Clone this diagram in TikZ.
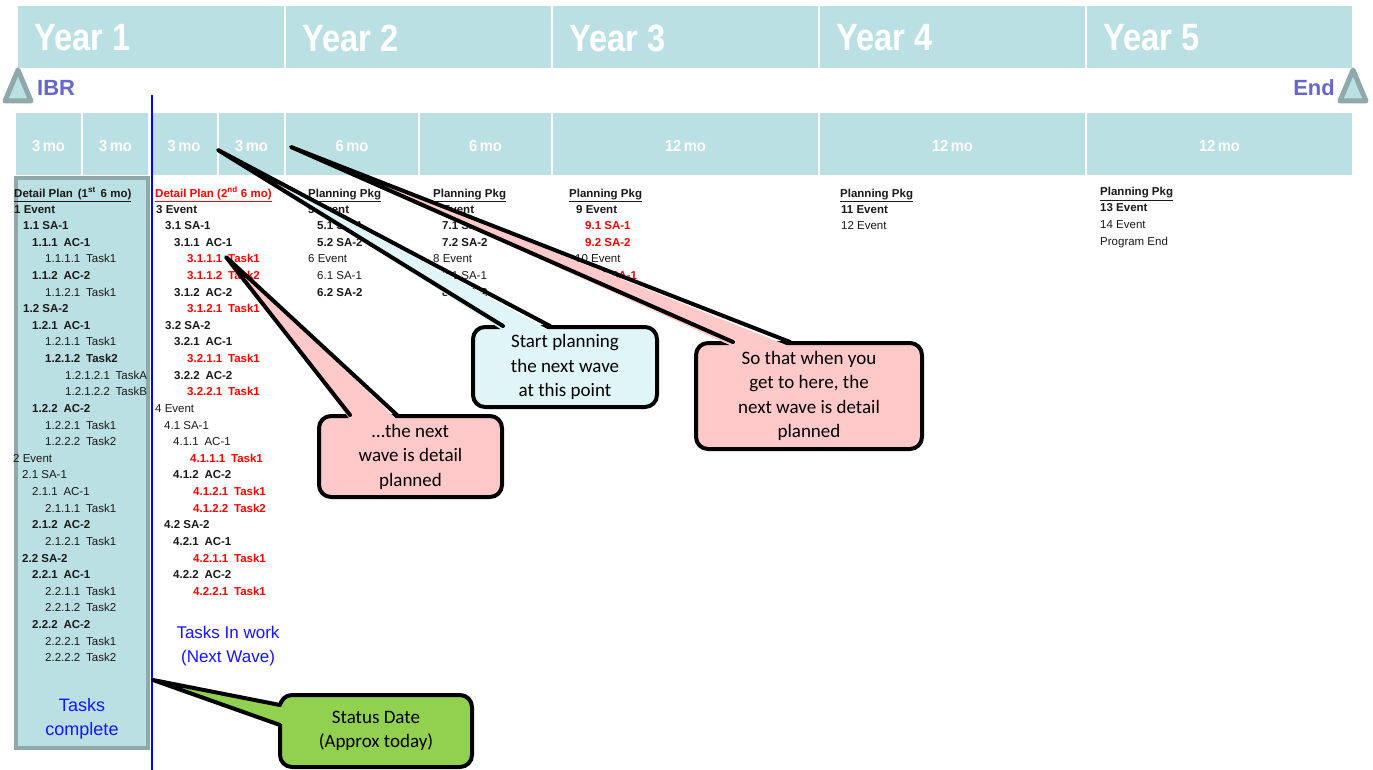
\documentclass[tikz,border=0pt]{standalone}
\usepackage{fontspec}
\usepackage{graphicx}
\setmainfont{Liberation Sans}
\newfontfamily\callfont{Carlito}
\usetikzlibrary{calc}
\definecolor{teal1}{HTML}{BBE0E3}
\definecolor{grayb}{HTML}{8FA8A9}
\definecolor{ibr}{HTML}{6666CC}
\definecolor{pinkc}{HTML}{FFC9C9}
\definecolor{cyanc}{HTML}{DFF5F7}
\definecolor{greenc}{HTML}{92D050}
\definecolor{bluet}{HTML}{1414FF}
\definecolor{redt}{HTML}{FF0000}
\definecolor{txt}{HTML}{1A1A1A}
\newcommand\Bf{\bfseries}
\newcommand\Rd{\bfseries\color{redt}}
\newcommand\Nm{\mdseries}
\newcommand\gapp{\hspace{0.5em}}
\begin{document}
\begin{tikzpicture}[x=1pt,y=-1pt,
  hdr/.style={fill=teal1, inner sep=0pt, outer sep=0pt, anchor=north west, minimum height=62},
  yr/.style={anchor=west, inner sep=0pt, text=white, font=\fontsize{38}{40}\selectfont\bfseries},
  mo/.style={hdr, text=white, font=\fontsize{16}{18}\selectfont\bfseries},
  tx/.style={anchor=base west, inner sep=0pt, font=\fontsize{11.5}{13}\selectfont, text=txt},
  hx/.style={anchor=base west, inner sep=0pt, font=\fontsize{11.5}{13}\selectfont\bfseries, text=txt},
  bluetx/.style={align=center, text=bluet, inner sep=0pt},
  callout/.style={draw=black, line width=4pt, rounded corners=12pt, align=center, inner sep=0pt, font=\callfont\fontsize{19}{24.5}\selectfont},
  ptr/.style={draw=black, line width=4pt, line join=round, line cap=round},
  mile/.style={draw=grayb, line width=5pt, fill=teal1, line join=round},
  milet/.style={text=ibr, font=\fontsize{22}{24}\selectfont\bfseries, inner sep=0pt}]
\useasboundingbox (0,0) rectangle (1373,770);
\fill[white] (0,0) rectangle (1373,770);

% year row
\foreach \a/\b/\n in {18/284/1,286/551/2,553/818/3,820/1085/4,1087/1352/5}{
  \node[hdr, minimum width=\b-\a] (yb\n) at (\a,6) {};
  \node[yr] (yt\n) at (\a+16,38) {\scalebox{0.86}[1]{Year \n}};
}
% month row
\foreach \a/\b/\n [count=\i] in {16/81/3,83/148/3,151/217/3,219/284/3,286/418/6,420/551/6,553/818/12,820/1085/12,1087/1352/12}{
  \node[hdr, minimum width=\b-\a] (mb\i) at (\a,113) {};
  \node[text=white, font=\fontsize{16}{18}\selectfont\bfseries, inner sep=0pt] (mt\i) at (\a/2+\b/2,146) {\scalebox{0.92}[1]{\n\,mo}};
}

% milestones
\draw[mile] (18,70) -- (31,101) -- (5,101) -- cycle;
\node[milet, anchor=west] (ibr) at (37,88) {IBR};
\draw[mile] (1353,70) -- (1366,101) -- (1340,101) -- cycle;
\node[milet, anchor=east] (endm) at (1335,88) {End};

% completed box
\node[draw=grayb, line width=4pt, fill=teal1, minimum width=132, minimum height=570, anchor=north west, inner sep=0pt, outer sep=0pt] (donebox) at (16,178) {};

% status date line
\coordinate (sdtop) at (152,95);
\coordinate (sdbot) at (152,770);
\draw[blue, line width=1.6pt] (sdtop) -- (sdbot);

% headers
\node[hx] (h1) at (14,197) {\underline{Detail Plan\hspace{0.15em} (1\textsuperscript{st}\hspace{0.15em} 6 mo)}};
\node[hx, text=redt] (h2) at (155,197) {\underline{Detail Plan (2\textsuperscript{nd} 6 mo)}};
\foreach \x/\y [count=\i] in {308/197,433/197,569/197,840/197,1100/196}{
  \node[hx] (pp\i) at (\x,\y) {\underline{Planning Pkg}};
}

% column 1
\foreach \x/\f/\t [count=\i] in {
 14/\Bf/1 Event, 23/\Bf/1.1 SA-1, 32/\Bf/1.1.1\gapp AC-1, 45/\Nm/1.1.1.1\gapp Task1,
 32/\Bf/1.1.2\gapp AC-2, 45/\Nm/1.1.2.1\gapp Task1, 23/\Bf/1.2 SA-2, 32/\Bf/1.2.1\gapp AC-1,
 45/\Nm/1.2.1.1\gapp Task1, 45/\Bf/1.2.1.2\gapp Task2, 65/\Nm/1.2.1.2.1\gapp TaskA, 65/\Nm/1.2.1.2.2\gapp TaskB,
 32/\Bf/1.2.2\gapp AC-2, 45/\Nm/1.2.2.1\gapp Task1, 45/\Nm/1.2.2.2\gapp Task2, 13/\Nm/2 Event,
 22/\Nm/2.1 SA-1, 32/\Nm/2.1.1\gapp AC-1, 45/\Nm/2.1.1.1\gapp Task1, 32/\Bf/2.1.2\gapp AC-2,
 45/\Nm/2.1.2.1\gapp Task1, 22/\Bf/2.2 SA-2, 32/\Bf/2.2.1\gapp AC-1, 45/\Nm/2.2.1.1\gapp Task1,
 45/\Nm/2.2.1.2\gapp Task2, 32/\Bf/2.2.2\gapp AC-2, 45/\Nm/2.2.2.1\gapp Task1, 45/\Nm/2.2.2.2\gapp Task2}{
  \node[tx] (ca\i) at (\x,196.4+16.62*\i) {\f \t};
}
% column 2
\foreach \x/\f/\t [count=\i] in {
 156/\Bf/3 Event, 165/\Bf/3.1 SA-1, 174/\Bf/3.1.1\gapp AC-1, 187/\Rd/3.1.1.1\gapp Task1,
 187/\Rd/3.1.1.2\gapp Task2, 174/\Bf/3.1.2\gapp AC-2, 187/\Rd/3.1.2.1\gapp Task1, 165/\Bf/3.2 SA-2,
 174/\Bf/3.2.1\gapp AC-1, 187/\Rd/3.2.1.1\gapp Task1, 174/\Bf/3.2.2\gapp AC-2, 187/\Rd/3.2.2.1\gapp Task1,
 155/\Nm/4 Event, 164/\Nm/4.1 SA-1, 173/\Nm/4.1.1\gapp AC-1, 190/\Rd/4.1.1.1\gapp Task1,
 173/\Bf/4.1.2\gapp AC-2, 193/\Rd/4.1.2.1\gapp Task1, 193/\Rd/4.1.2.2\gapp Task2, 164/\Bf/4.2 SA-2,
 173/\Bf/4.2.1\gapp AC-1, 193/\Rd/4.2.1.1\gapp Task1, 173/\Bf/4.2.2\gapp AC-2, 193/\Rd/4.2.2.1\gapp Task1}{
  \node[tx] (cb\i) at (\x,196.4+16.62*\i) {\f \t};
}
% planning package columns
\foreach \x/\f/\t [count=\i] in {
 308/\Bf/5 Event, 317/\Bf/5.1 SA-1, 317/\Bf/5.2 SA-2, 308/\Nm/6 Event, 317/\Nm/6.1 SA-1, 317/\Bf/6.2 SA-2}{
  \node[tx] (cc\i) at (\x,196.4+16.62*\i) {\f \t};
}
\foreach \x/\f/\t [count=\i] in {
 433/\Bf/7 Event, 442/\Bf/7.1 SA-1, 442/\Bf/7.2 SA-2, 433/\Nm/8 Event, 442/\Nm/8.1 SA-1, 442/\Bf/8.2 SA-2}{
  \node[tx] (cd\i) at (\x,196.4+16.62*\i) {\f \t};
}
\foreach \x/\f/\t [count=\i] in {
 576/\Bf/9 Event, 585/\Rd/9.1 SA-1, 585/\Rd/9.2 SA-2, 575/\Nm/10 Event, 585/\Rd/10.1 SA-1}{
  \node[tx] (ce\i) at (\x,196.4+16.62*\i) {\f \t};
}
\foreach \x/\f/\t [count=\i] in {841/\Bf/11 Event, 841/\Nm/12 Event}{
  \node[tx] (cf\i) at (\x,196.4+16.62*\i) {\f \t};
}
\foreach \x/\f/\t [count=\i] in {1100/\Bf/13 Event, 1100/\Nm/14 Event, 1100/\Nm/Program End}{
  \node[tx] (cg\i) at (\x,194.4+16.9*\i) {\f \t};
}

% blue notes
\node[bluetx, font=\fontsize{18}{24}\selectfont] (done) at (82,719) {Tasks\\complete};
\node[bluetx, font=\fontsize{17}{24}\selectfont] (inwork) at (228,646) {Tasks In work\\(Next Wave)};

% callout B: start planning
\node[callout, fill=cyanc, minimum width=184, minimum height=80] (cB) at (565,367) {Start planning\\the next wave\\at this point};
\coordinate (tipB) at (218,150);
\coordinate (b1) at (503,326); \coordinate (b2) at (550,326);
\fill[cyanc] (tipB) -- ($(b1)+(0,4.5)$) -- ($(b2)+(0,4.5)$) -- cycle;
\draw[ptr] (b1) -- (tipB) -- (b2);

% callout C: so that when
\node[callout, fill=pinkc, minimum width=226, minimum height=106] (cC) at (809,396) {So that when you\\get to here, the\\next wave is detail\\planned};
\coordinate (tipC) at (291,147);
\coordinate (c1) at (733,342); \coordinate (c2) at (790,342);
\fill[pinkc] (tipC) -- ($(c1)+(0,4.5)$) -- ($(c2)+(0,4.5)$) -- cycle;
\draw[ptr] (c1) -- (tipC) -- (c2);

% callout A: the next wave
\node[callout, fill=pinkc, minimum width=183, minimum height=81] (cA) at (410.5,456.5) {…the next\\wave is detail\\planned};
\coordinate (tipA) at (226,257);
\coordinate (a1) at (350,415); \coordinate (a2) at (397,415);
\fill[pinkc] (tipA) -- ($(a1)+(0,4.5)$) -- ($(a2)+(0,4.5)$) -- cycle;
\draw[ptr] (a1) -- (tipA) -- (a2);

% callout D: status date
\node[callout, fill=greenc, minimum width=192, minimum height=72] (cD) at (376,731) {Status Date\\(Approx today)};
\coordinate (tipD) at (153,680);
\coordinate (d1) at (280,705); \coordinate (d2) at (280,725);
\fill[greenc] (tipD) -- ($(d1)+(4.5,0)$) -- ($(d2)+(4.5,0)$) -- cycle;
\draw[ptr] (d1) -- (tipD) -- (d2);
\end{tikzpicture}
\end{document}
